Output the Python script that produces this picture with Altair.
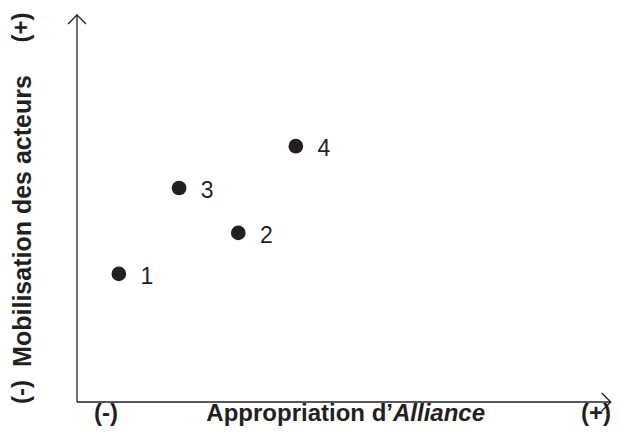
import altair as alt
import pandas as pd

# ---- data ----
ids = ["1", "2", "3", "4"]
appropriation = [0.77, 2.97, 1.88, 4.03]   # x (0..10 frame)
mobilisation = [3.31, 4.37, 5.53, 6.61]    # y (0..10 frame)

x_title_plain = "Appropriation d\u2019"
x_title_italic = "Alliance"
y_title = "Mobilisation des acteurs"
low_label = "(-)"
high_label = "(+)"

INK = "#231f20"
FONT = "Liberation Sans"
X_END = 9.83  # right end of the horizontal axis arrow

points = pd.DataFrame({"id": ids, "x": appropriation, "y": mobilisation})

xs = alt.Scale(domain=[0, 10], range=[69, 612])
ys = alt.Scale(domain=[0, 10], range=[394, 7])

X = lambda f: alt.X(f, type="quantitative", scale=xs, axis=None)
Y = lambda f: alt.Y(f, type="quantitative", scale=ys, axis=None)

# axis frame (origin to the two ends)
axes_df = pd.DataFrame({"x": [0, 0], "x2": [0, X_END], "y": [0, 0], "y2": [10, 0]})
axes = alt.Chart(axes_df).mark_rule(color=INK, strokeWidth=1.3).encode(
    x=X("x"), x2="x2", y=Y("y"), y2="y2"
)

arrow_df = pd.DataFrame({"x": [0, X_END], "y": [10, 0], "a": [0, 90]})
arrows = alt.Chart(arrow_df).mark_point(
    shape="M-1,1L0,0L1,1", filled=False, stroke=INK, strokeWidth=1.3,
    size=324, opacity=1
).encode(x=X("x"), y=Y("y"), angle=alt.Angle("a:Q", scale=None))

dots = alt.Chart(points).mark_circle(size=215, color=INK, opacity=1).encode(
    x=X("x"), y=Y("y")
)
labels = alt.Chart(points).mark_text(
    align="center", baseline="alphabetic", dx=28, dy=10,
    font=FONT, fontSize=23, color=INK
).encode(x=X("x"), y=Y("y"), text="id:N")

def txt(text, x, y, **kw):
    opts = dict(font=FONT, fontSize=24, fontWeight="bold", color=INK,
                baseline="alphabetic")
    opts.update(kw)
    return alt.Chart(pd.DataFrame({"t": [text]})).mark_text(**opts).encode(
        x=alt.value(x), y=alt.value(y), text="t:N"
    )

annot = [
    txt(x_title_plain, 385, 413, align="right"),
    txt(x_title_italic, 385, 413, align="left", fontStyle="italic"),
    txt(low_label, 98, 413, align="center"),
    txt(high_label, 588, 413, align="center"),
    txt(y_title, 23, 213, align="center", angle=270, fontSize=25),
    txt(high_label, 21, 19.5, align="center", angle=270),
    txt(low_label, 21, 384, align="center", angle=270),
]

chart = alt.layer(axes, arrows, dots, labels, *annot).properties(
    width=604, height=419,
    autosize=alt.AutoSizeParams(type="none"),
    padding=0,
).configure_view(stroke=None)

chart.save("out.html", embed_options={"renderer": "svg", "actions": False})
